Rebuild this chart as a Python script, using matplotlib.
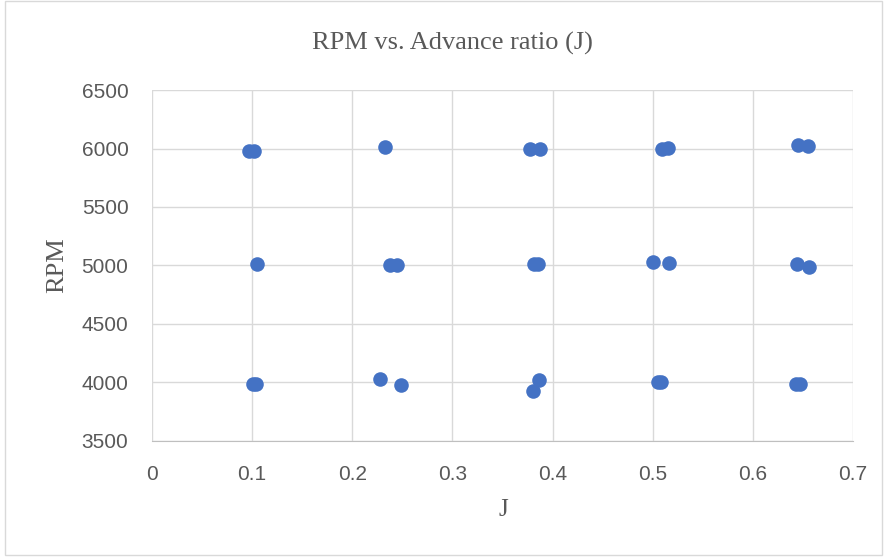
import matplotlib.pyplot as plt
import matplotlib.patches as mpatches

# Datos
j_6000 = [0.097, 0.102, 0.233, 0.377, 0.387, 0.509, 0.515, 0.645, 0.655]
rpm_6000 = [5981, 5981, 6010, 6000, 6000, 5995, 6005, 6030, 6025]

j_5000 = [0.105, 0.238, 0.245, 0.381, 0.385, 0.500, 0.516, 0.644, 0.656]
rpm_5000 = [5010, 5005, 5005, 5010, 5010, 5030, 5020, 5015, 4990]

j_4000 = [0.101, 0.104, 0.228, 0.249, 0.386, 0.380, 0.505, 0.508, 0.643, 0.647]
rpm_4000 = [3990, 3990, 4030, 3980, 4020, 3930, 4005, 4005, 3990, 3990]

x_ticks = [0, 0.1, 0.2, 0.3, 0.4, 0.5, 0.6, 0.7]
x_labels = ["0", "0.1", "0.2", "0.3", "0.4", "0.5", "0.6", "0.7"]
y_ticks = [3500, 4000, 4500, 5000, 5500, 6000, 6500]

fig = plt.figure(figsize=(8.86, 5.57), dpi=100)
ax = fig.add_axes([0.1716, 0.2083, 0.7912, 0.6301])

color = "#4472C4"
for xs, ys in [(j_6000, rpm_6000), (j_5000, rpm_5000), (j_4000, rpm_4000)]:
    ax.scatter(xs, ys, s=110, color=color, zorder=3, linewidths=0)

ax.set_xlim(0, 0.7)
ax.set_ylim(3500, 6500)
ax.set_xticks(x_ticks)
ax.set_xticklabels(x_labels)
ax.set_yticks(y_ticks)
ax.grid(True, color="#D9D9D9", linewidth=1)
ax.set_axisbelow(True)
for s in ["top", "right", "left"]:
    ax.spines[s].set_visible(False)
ax.spines["bottom"].set_color("#BFBFBF")
ax.tick_params(length=0, labelsize=15, labelcolor="#595959", pad=17)
for lab in ax.get_xticklabels() + ax.get_yticklabels():
    lab.set_family("Liberation Sans")

serif = "Liberation Serif"
fig.text(0.5107, 0.9228, "RPM vs. Advance ratio (J)", family=serif,
         fontsize=19, color="#595959", ha="center", va="center")
fig.text(0.5683, 0.0844, "J", family=serif, fontsize=18, color="#595959",
         ha="center", va="center")
fig.text(0.0643, 0.5233, "RPM", family=serif, fontsize=19, color="#595959",
         ha="center", va="center", rotation=90)

# borde del area del grafico
fig.patches.append(mpatches.Rectangle((0.006, 0.003), 0.99, 0.995, transform=fig.transFigure,
                                      fill=False, edgecolor="#D9D9D9", linewidth=1))

fig.savefig("out.png", dpi=100)
